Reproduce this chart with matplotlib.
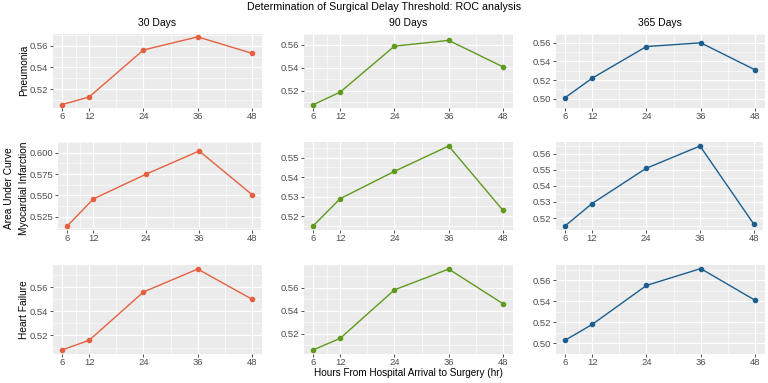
import matplotlib.pyplot as plt
import numpy as np

plt.rcParams['font.family'] = ['Liberation Sans', 'DejaVu Sans']

hours = [6, 12, 24, 36, 48]
periods = ['30 Days', '90 Days', '365 Days']
outcomes = ['Pneumonia', 'Myocardial Infarction', 'Heart Failure']
colors = ['#E5603F', '#5F9A1E', '#1C5F8E']

# AUC values, rows = outcome, cols = period
pneu_30 = [0.506, 0.513, 0.556, 0.568, 0.553]
pneu_90 = [0.508, 0.519, 0.559, 0.564, 0.541]
pneu_365 = [0.501, 0.522, 0.556, 0.560, 0.531]
mi_30 = [0.514, 0.546, 0.575, 0.602, 0.551]
mi_90 = [0.515, 0.529, 0.543, 0.556, 0.523]
mi_365 = [0.515, 0.529, 0.551, 0.565, 0.516]
hf_30 = [0.508, 0.516, 0.556, 0.575, 0.550]
hf_90 = [0.506, 0.516, 0.558, 0.576, 0.546]
hf_365 = [0.503, 0.518, 0.555, 0.571, 0.541]

values = [[pneu_30, pneu_90, pneu_365],
          [mi_30, mi_90, mi_365],
          [hf_30, hf_90, hf_365]]

# y tick labels per panel
yticks = [[[0.52, 0.54, 0.56], [0.52, 0.54, 0.56], [0.50, 0.52, 0.54, 0.56]],
          [[0.525, 0.550, 0.575, 0.600], [0.52, 0.53, 0.54, 0.55], [0.52, 0.53, 0.54, 0.55, 0.56]],
          [[0.52, 0.54, 0.56], [0.52, 0.54, 0.56], [0.50, 0.52, 0.54, 0.56]]]
ytick_fmt = [['%.2f', '%.2f', '%.2f'], ['%.3f', '%.2f', '%.2f'], ['%.2f', '%.2f', '%.2f']]

W, H = 768, 383
fig = plt.figure(figsize=(W / 100, H / 100), dpi=100)

# pixel layout: x of tick 6 and tick 48 per panel, top/bottom per row
x6 = [[62, 313, 565], [67, 313, 565], [62, 313, 565]]
x48 = [[252, 503, 755], [252, 503, 754], [252, 503, 755]]
row_tb = [(33.5, 108), (142, 230), (265, 354)]

for r in range(3):
    for c in range(3):
        span = x48[r][c] - x6[r][c]
        left = x6[r][c] - 0.05 * span
        right = x48[r][c] + 0.05 * span
        top, bot = row_tb[r]
        ax = fig.add_axes([left / W, 1 - bot / H, (right - left) / W, (bot - top) / H])
        ax.set_facecolor('#EBEBEB')
        ax.plot(hours, values[r][c], color=colors[c], lw=1.0, marker='o', ms=3.0, zorder=3)
        ax.margins(x=0.05, y=0.05)
        ax.set_xticks(hours)
        ax.set_xticks([9, 18, 30, 42], minor=True)
        ax.set_yticks(yticks[r][c])
        yt = yticks[r][c]
        step = yt[1] - yt[0]
        ax.set_yticks([t + step / 2 for t in yt] + [yt[0] - step / 2], minor=True)
        lo, hi = ax.get_ylim()
        ax.set_ylim(lo, hi)
        ax.set_yticklabels([ytick_fmt[r][c] % t for t in yt])
        ax.grid(True, which='major', color='white', lw=0.9)
        ax.grid(True, which='minor', color='white', lw=0.45)
        ax.set_axisbelow(True)
        for s in ax.spines.values():
            s.set_visible(False)
        ax.tick_params(which='major', length=2.0, width=0.6, color='#333333',
                       labelsize=6.8, labelcolor='#4D4D4D', pad=1.2)
        ax.tick_params(which='minor', length=0)

for c in range(3):
    xc = (x6[0][c] + x48[0][c]) / 2
    fig.text(xc / W, 1 - 23 / H, periods[c], ha='center', va='center', fontsize=7.5)

fig.text(384 / W, 1 - 7 / H, 'Determination of Surgical Delay Threshold: ROC analysis',
         ha='center', va='center', fontsize=7.7)

row_label_y = [70, 188, 310]
for r in range(3):
    fig.text(24 / W, 1 - row_label_y[r] / H, outcomes[r], rotation=90,
             ha='center', va='center', fontsize=7.3)
fig.text(9 / W, 1 - 188 / H, 'Area Under Curve', rotation=90,
         ha='center', va='center', fontsize=7.3)
fig.text(408 / W, 1 - 373.5 / H, 'Hours From Hospital Arrival to Surgery (hr)',
         ha='center', va='center', fontsize=7.2)

fig.savefig('out.png', dpi=100, facecolor='white')
